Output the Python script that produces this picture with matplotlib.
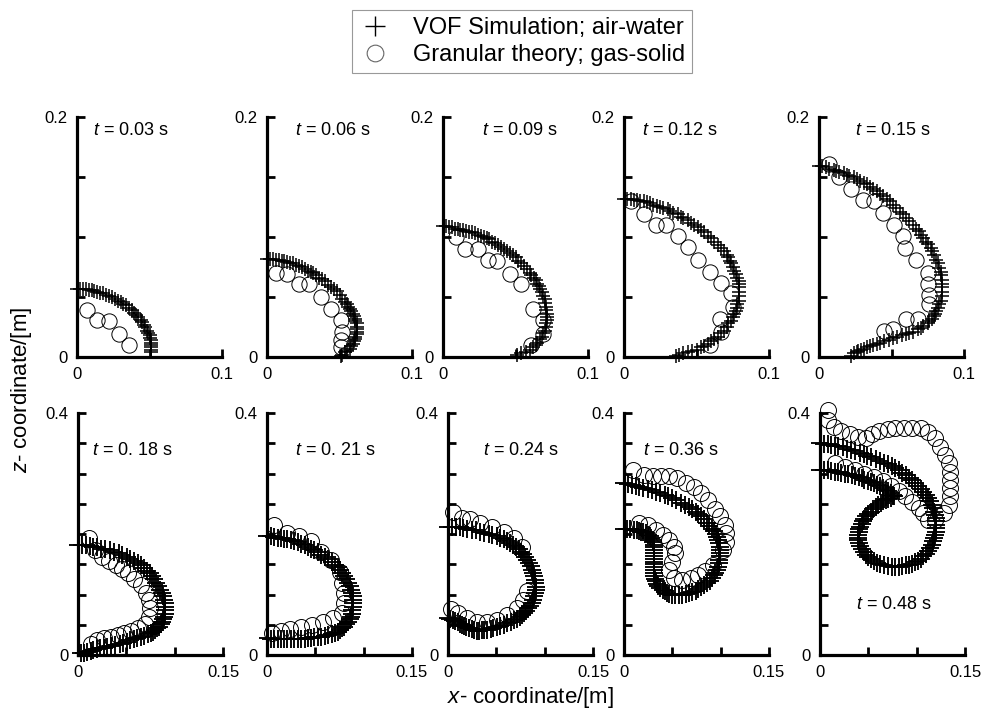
import numpy as np
import matplotlib
matplotlib.use("Agg")
import matplotlib.pyplot as plt
from matplotlib.lines import Line2D

plt.rcParams['font.family'] = ['Liberation Sans', 'DejaVu Sans']
plt.rcParams['mathtext.fontset'] = 'custom'
plt.rcParams['mathtext.it'] = 'Liberation Sans:italic'
plt.rcParams['mathtext.rm'] = 'Liberation Sans'

# ---- data: (x, z) in metres ----
# top row, t = 0.03 ... 0.15 s
t003_vof = np.array([[0, 0.057], [0.002, 0.057], [0.004, 0.057], [0.006, 0.057], [0.008, 0.056],
                     [0.010, 0.056], [0.012, 0.055], [0.014, 0.054], [0.016, 0.053], [0.018, 0.053],
                     [0.020, 0.052], [0.022, 0.051], [0.024, 0.050], [0.026, 0.048], [0.028, 0.047],
                     [0.030, 0.046], [0.032, 0.044], [0.034, 0.043], [0.036, 0.041], [0.038, 0.039],
                     [0.039, 0.037], [0.041, 0.035], [0.042, 0.033], [0.044, 0.031], [0.045, 0.029],
                     [0.046, 0.027], [0.047, 0.025], [0.048, 0.022], [0.049, 0.020], [0.050, 0.018],
                     [0.050, 0.016], [0.051, 0.014], [0.051, 0.012], [0.051, 0.010], [0.051, 0.008],
                     [0.051, 0.006], [0.051, 0.004]])
t003_gran = np.array([[0.007, 0.039], [0.014, 0.031], [0.022, 0.030], [0.029, 0.019], [0.036, 0.010]])

t006_vof = np.array([[0, 0.082], [0.002, 0.082], [0.004, 0.082], [0.006, 0.081], [0.008, 0.081],
                     [0.010, 0.080], [0.012, 0.080], [0.014, 0.079], [0.016, 0.078], [0.018, 0.078],
                     [0.020, 0.077], [0.022, 0.076], [0.024, 0.075], [0.026, 0.073], [0.028, 0.072],
                     [0.030, 0.071], [0.032, 0.070], [0.034, 0.068], [0.036, 0.066], [0.038, 0.065],
                     [0.040, 0.063], [0.042, 0.060], [0.044, 0.058], [0.046, 0.057], [0.048, 0.055],
                     [0.050, 0.052], [0.052, 0.048], [0.054, 0.046], [0.055, 0.044], [0.056, 0.042],
                     [0.057, 0.040], [0.058, 0.038], [0.059, 0.036], [0.060, 0.034], [0.061, 0.032],
                     [0.061, 0.030], [0.062, 0.028], [0.062, 0.025], [0.062, 0.023], [0.062, 0.021],
                     [0.062, 0.019], [0.061, 0.017], [0.061, 0.015], [0.060, 0.013], [0.059, 0.011],
                     [0.058, 0.009], [0.057, 0.007], [0.055, 0.005], [0.054, 0.004], [0.052, 0.002],
                     [0.051, 0.001]])
t006_gran = np.array([[0.006, 0.070], [0.014, 0.069], [0.022, 0.061], [0.029, 0.061], [0.037, 0.050],
                      [0.044, 0.040], [0.051, 0.031], [0.052, 0.021], [0.051, 0.014], [0.051, 0.008]])

t009_vof = np.array([[0, 0.109], [0.002, 0.109], [0.004, 0.108], [0.006, 0.108], [0.008, 0.107],
                     [0.010, 0.107], [0.012, 0.106], [0.014, 0.106], [0.016, 0.105], [0.018, 0.104],
                     [0.020, 0.104], [0.022, 0.103], [0.024, 0.102], [0.026, 0.101], [0.028, 0.100],
                     [0.030, 0.099], [0.032, 0.098], [0.034, 0.096], [0.036, 0.095], [0.038, 0.093],
                     [0.040, 0.092], [0.042, 0.090], [0.044, 0.088], [0.046, 0.087], [0.048, 0.085],
                     [0.050, 0.083], [0.052, 0.080], [0.054, 0.078], [0.056, 0.076], [0.058, 0.073],
                     [0.060, 0.070], [0.061, 0.068], [0.063, 0.066], [0.064, 0.064], [0.065, 0.061],
                     [0.066, 0.059], [0.067, 0.057], [0.068, 0.054], [0.069, 0.051], [0.070, 0.048],
                     [0.070, 0.045], [0.071, 0.042], [0.071, 0.039], [0.072, 0.036], [0.072, 0.033],
                     [0.072, 0.031], [0.071, 0.028], [0.071, 0.025], [0.070, 0.022], [0.069, 0.020],
                     [0.068, 0.017], [0.067, 0.015], [0.065, 0.012], [0.064, 0.010], [0.062, 0.008],
                     [0.060, 0.006], [0.057, 0.004], [0.054, 0.003], [0.051, 0.002]])
t009_gran = np.array([[0.009, 0.100], [0.015, 0.090], [0.024, 0.090], [0.031, 0.081], [0.037, 0.080],
                      [0.046, 0.069], [0.054, 0.061], [0.062, 0.040], [0.069, 0.031], [0.069, 0.019],
                      [0.061, 0.010]])

t012_vof = np.array([[0, 0.132], [0.002, 0.132], [0.005, 0.132], [0.007, 0.131], [0.009, 0.131],
                     [0.011, 0.130], [0.014, 0.130], [0.016, 0.129], [0.018, 0.128], [0.020, 0.127],
                     [0.023, 0.126], [0.025, 0.125], [0.027, 0.124], [0.030, 0.123], [0.032, 0.122],
                     [0.034, 0.120], [0.037, 0.119], [0.039, 0.117], [0.041, 0.116], [0.044, 0.114],
                     [0.046, 0.112], [0.048, 0.110], [0.051, 0.108], [0.053, 0.106], [0.055, 0.104],
                     [0.058, 0.101], [0.060, 0.099], [0.062, 0.096], [0.065, 0.093], [0.067, 0.091],
                     [0.069, 0.088], [0.071, 0.085], [0.072, 0.083], [0.073, 0.080], [0.074, 0.078],
                     [0.075, 0.075], [0.076, 0.072], [0.077, 0.069], [0.078, 0.066], [0.079, 0.063],
                     [0.079, 0.061], [0.079, 0.058], [0.079, 0.054], [0.079, 0.051], [0.079, 0.047],
                     [0.078, 0.044], [0.078, 0.041], [0.077, 0.038], [0.076, 0.036], [0.075, 0.033],
                     [0.074, 0.030], [0.072, 0.028], [0.071, 0.025], [0.069, 0.022], [0.067, 0.020],
                     [0.065, 0.017], [0.062, 0.015], [0.060, 0.013], [0.058, 0.011], [0.055, 0.009],
                     [0.053, 0.008], [0.050, 0.006], [0.047, 0.005], [0.044, 0.004], [0.041, 0.003],
                     [0.038, 0.002], [0.036, 0.001]])
t012_gran = np.array([[0.005, 0.130], [0.014, 0.119], [0.022, 0.110], [0.029, 0.110], [0.037, 0.101],
                      [0.044, 0.092], [0.051, 0.081], [0.059, 0.071], [0.067, 0.062], [0.074, 0.053],
                      [0.075, 0.042], [0.066, 0.032], [0.067, 0.021], [0.059, 0.010]])

t015_vof = np.array([[0, 0.159], [0.002, 0.159], [0.005, 0.158], [0.007, 0.157], [0.010, 0.156],
                     [0.012, 0.155], [0.014, 0.154], [0.017, 0.153], [0.019, 0.152], [0.021, 0.151],
                     [0.024, 0.150], [0.026, 0.148], [0.028, 0.147], [0.031, 0.145], [0.033, 0.144],
                     [0.035, 0.142], [0.037, 0.140], [0.040, 0.138], [0.042, 0.136], [0.044, 0.134],
                     [0.047, 0.132], [0.049, 0.130], [0.051, 0.127], [0.053, 0.124], [0.056, 0.121],
                     [0.058, 0.119], [0.060, 0.116], [0.062, 0.113], [0.065, 0.110], [0.067, 0.107],
                     [0.069, 0.105], [0.070, 0.102], [0.072, 0.099], [0.074, 0.096], [0.075, 0.094],
                     [0.077, 0.091], [0.078, 0.088], [0.079, 0.085], [0.081, 0.081], [0.082, 0.078],
                     [0.083, 0.074], [0.084, 0.071], [0.084, 0.068], [0.085, 0.064], [0.085, 0.061],
                     [0.085, 0.058], [0.085, 0.054], [0.085, 0.051], [0.084, 0.047], [0.083, 0.044],
                     [0.082, 0.041], [0.081, 0.038], [0.080, 0.036], [0.079, 0.034], [0.078, 0.032],
                     [0.076, 0.030], [0.075, 0.028], [0.072, 0.026], [0.070, 0.024], [0.068, 0.023],
                     [0.065, 0.021], [0.062, 0.020], [0.060, 0.019], [0.057, 0.018], [0.054, 0.017],
                     [0.051, 0.016], [0.048, 0.014], [0.045, 0.013], [0.042, 0.012], [0.040, 0.011],
                     [0.037, 0.010], [0.035, 0.009], [0.033, 0.008], [0.031, 0.007], [0.029, 0.006],
                     [0.027, 0.005], [0.026, 0.004], [0.024, 0.003], [0.022, 0.001]])
t015_gran = np.array([[0.007, 0.161], [0.014, 0.150], [0.022, 0.140], [0.030, 0.131], [0.038, 0.130],
                      [0.044, 0.120], [0.052, 0.110], [0.058, 0.101], [0.059, 0.091], [0.067, 0.081],
                      [0.075, 0.070], [0.075, 0.061], [0.076, 0.052], [0.076, 0.044], [0.068, 0.032],
                      [0.060, 0.032], [0.051, 0.023], [0.045, 0.022]])

# bottom row, t = 0.18 ... 0.48 s
t018_vof = np.array([[0, 0.182], [0.004, 0.182], [0.008, 0.181], [0.012, 0.180], [0.016, 0.179],
                     [0.020, 0.178], [0.024, 0.176], [0.028, 0.175], [0.033, 0.173], [0.037, 0.171],
                     [0.042, 0.168], [0.046, 0.165], [0.051, 0.162], [0.054, 0.159], [0.058, 0.155],
                     [0.062, 0.152], [0.065, 0.148], [0.068, 0.144], [0.071, 0.139], [0.074, 0.135],
                     [0.077, 0.130], [0.079, 0.125], [0.081, 0.119], [0.083, 0.114], [0.085, 0.108],
                     [0.087, 0.102], [0.088, 0.097], [0.089, 0.091], [0.090, 0.086], [0.090, 0.080],
                     [0.090, 0.074], [0.090, 0.068], [0.089, 0.063], [0.088, 0.059], [0.087, 0.055],
                     [0.086, 0.051], [0.084, 0.047], [0.082, 0.044], [0.080, 0.041], [0.078, 0.038],
                     [0.075, 0.036], [0.072, 0.034], [0.068, 0.032], [0.065, 0.030], [0.061, 0.028],
                     [0.058, 0.026], [0.054, 0.024], [0.051, 0.022], [0.047, 0.020], [0.043, 0.019],
                     [0.038, 0.017], [0.034, 0.015], [0.030, 0.014], [0.027, 0.012], [0.023, 0.011],
                     [0.020, 0.010], [0.016, 0.008], [0.013, 0.007], [0.009, 0.005], [0.006, 0.004],
                     [0.003, 0.003]])
t018_gran = np.array([[0.011, 0.193], [0.018, 0.174], [0.025, 0.162], [0.032, 0.155], [0.039, 0.149],
                      [0.045, 0.142], [0.052, 0.136], [0.058, 0.126], [0.065, 0.115], [0.070, 0.103],
                      [0.073, 0.091], [0.074, 0.077], [0.073, 0.063], [0.069, 0.051], [0.062, 0.044],
                      [0.055, 0.040], [0.048, 0.036], [0.041, 0.033], [0.034, 0.030], [0.027, 0.028],
                      [0.020, 0.025], [0.013, 0.019]])

t021_vof = np.array([[0, 0.196], [0.004, 0.196], [0.007, 0.195], [0.011, 0.194], [0.014, 0.193],
                     [0.018, 0.192], [0.021, 0.191], [0.025, 0.190], [0.028, 0.188], [0.032, 0.186],
                     [0.035, 0.184], [0.039, 0.182], [0.042, 0.179], [0.046, 0.176], [0.049, 0.173],
                     [0.053, 0.170], [0.056, 0.166], [0.060, 0.162], [0.063, 0.158], [0.067, 0.154],
                     [0.070, 0.149], [0.073, 0.145], [0.075, 0.140], [0.078, 0.135], [0.080, 0.130],
                     [0.082, 0.125], [0.084, 0.119], [0.086, 0.114], [0.087, 0.108], [0.088, 0.102],
                     [0.089, 0.097], [0.089, 0.091], [0.089, 0.086], [0.089, 0.080], [0.088, 0.074],
                     [0.088, 0.068], [0.087, 0.063], [0.086, 0.059], [0.084, 0.055], [0.082, 0.051],
                     [0.080, 0.047], [0.078, 0.044], [0.075, 0.041], [0.073, 0.038], [0.070, 0.036],
                     [0.067, 0.034], [0.063, 0.033], [0.060, 0.031], [0.056, 0.030], [0.053, 0.029],
                     [0.049, 0.029], [0.046, 0.028], [0.042, 0.028], [0.039, 0.027], [0.035, 0.027],
                     [0.032, 0.026], [0.028, 0.026], [0.025, 0.026], [0.021, 0.026], [0.018, 0.026],
                     [0.014, 0.026], [0.011, 0.026], [0.007, 0.027], [0.004, 0.027], [0.001, 0.028]])
t021_gran = np.array([[0.007, 0.215], [0.021, 0.201], [0.033, 0.196], [0.045, 0.188], [0.056, 0.171],
                      [0.066, 0.157], [0.075, 0.138], [0.078, 0.119], [0.080, 0.102], [0.080, 0.086],
                      [0.078, 0.069], [0.068, 0.061], [0.058, 0.055], [0.047, 0.050], [0.035, 0.046],
                      [0.024, 0.043], [0.014, 0.039], [0.005, 0.036]])

t024_vof = np.array([[0, 0.212], [0.004, 0.212], [0.008, 0.211], [0.012, 0.211], [0.016, 0.210],
                     [0.020, 0.209], [0.025, 0.207], [0.029, 0.206], [0.033, 0.204], [0.037, 0.202],
                     [0.042, 0.200], [0.046, 0.198], [0.051, 0.196], [0.054, 0.194], [0.058, 0.191],
                     [0.061, 0.188], [0.064, 0.185], [0.067, 0.182], [0.070, 0.178], [0.073, 0.175],
                     [0.075, 0.171], [0.078, 0.167], [0.080, 0.162], [0.082, 0.157], [0.084, 0.152],
                     [0.086, 0.147], [0.087, 0.141], [0.088, 0.136], [0.089, 0.130], [0.090, 0.124],
                     [0.090, 0.119], [0.091, 0.113], [0.091, 0.108], [0.090, 0.102], [0.089, 0.097],
                     [0.088, 0.091], [0.087, 0.086], [0.085, 0.081], [0.083, 0.077], [0.081, 0.073],
                     [0.079, 0.069], [0.077, 0.066], [0.074, 0.063], [0.071, 0.060], [0.068, 0.058],
                     [0.065, 0.055], [0.061, 0.053], [0.058, 0.050], [0.054, 0.048], [0.051, 0.047],
                     [0.047, 0.045], [0.044, 0.043], [0.040, 0.042], [0.037, 0.041], [0.035, 0.041],
                     [0.032, 0.040], [0.030, 0.040], [0.027, 0.041], [0.025, 0.043], [0.022, 0.044],
                     [0.019, 0.046], [0.017, 0.048], [0.014, 0.050], [0.012, 0.052], [0.010, 0.054],
                     [0.007, 0.056], [0.005, 0.058], [0.002, 0.060], [0, 0.061]])
t024_gran = np.array([[0.005, 0.237], [0.014, 0.226], [0.023, 0.225], [0.033, 0.219], [0.045, 0.212],
                      [0.058, 0.204], [0.068, 0.193], [0.077, 0.179], [0.082, 0.105], [0.078, 0.091],
                      [0.071, 0.077], [0.061, 0.066], [0.051, 0.058], [0.040, 0.055], [0.030, 0.055],
                      [0.020, 0.061], [0.010, 0.070], [0.003, 0.076]])

t036_vof = np.array([[0, 0.284], [0.004, 0.283], [0.008, 0.281], [0.012, 0.280], [0.016, 0.278],
                     [0.020, 0.276], [0.025, 0.274], [0.029, 0.272], [0.033, 0.270], [0.037, 0.268],
                     [0.042, 0.265], [0.046, 0.262], [0.050, 0.259], [0.054, 0.256], [0.059, 0.252],
                     [0.063, 0.248], [0.067, 0.244], [0.070, 0.241], [0.074, 0.237], [0.077, 0.233],
                     [0.080, 0.229], [0.083, 0.224], [0.086, 0.219], [0.088, 0.214], [0.091, 0.209],
                     [0.093, 0.205], [0.095, 0.200], [0.096, 0.195], [0.097, 0.190], [0.098, 0.185],
                     [0.099, 0.179], [0.099, 0.174], [0.099, 0.168], [0.099, 0.163], [0.098, 0.157],
                     [0.098, 0.152], [0.097, 0.146], [0.096, 0.141], [0.094, 0.136], [0.093, 0.132],
                     [0.091, 0.127], [0.089, 0.123], [0.086, 0.119], [0.083, 0.115], [0.080, 0.112],
                     [0.077, 0.109], [0.074, 0.106], [0.070, 0.104], [0.067, 0.102], [0.064, 0.101],
                     [0.060, 0.100], [0.057, 0.099], [0.053, 0.099], [0.050, 0.100], [0.047, 0.101],
                     [0.044, 0.103], [0.042, 0.105], [0.040, 0.108], [0.037, 0.111], [0.035, 0.114],
                     [0.034, 0.118], [0.033, 0.122], [0.032, 0.126], [0.031, 0.130], [0.031, 0.135],
                     [0.031, 0.140], [0.031, 0.145], [0.031, 0.150], [0.031, 0.154], [0.031, 0.159],
                     [0.031, 0.164], [0.031, 0.169], [0.031, 0.174], [0.031, 0.178], [0.031, 0.182],
                     [0.030, 0.186], [0.030, 0.190], [0.028, 0.193], [0.027, 0.196], [0.025, 0.199],
                     [0.023, 0.201], [0.020, 0.203], [0.018, 0.204], [0.015, 0.205], [0.013, 0.207],
                     [0.010, 0.207], [0.006, 0.208], [0.003, 0.209], [0, 0.209]])
t036_gran = np.array([[0.009, 0.306], [0.021, 0.298], [0.030, 0.296], [0.038, 0.296], [0.047, 0.296],
                      [0.055, 0.292], [0.064, 0.285], [0.072, 0.277], [0.080, 0.267], [0.087, 0.256],
                      [0.094, 0.242], [0.099, 0.229], [0.104, 0.215], [0.106, 0.201], [0.106, 0.187],
                      [0.102, 0.174], [0.092, 0.149], [0.084, 0.139], [0.077, 0.132], [0.069, 0.127],
                      [0.060, 0.124], [0.052, 0.128], [0.047, 0.140], [0.050, 0.154], [0.053, 0.168],
                      [0.052, 0.179], [0.047, 0.190], [0.040, 0.198], [0.033, 0.207], [0.025, 0.215],
                      [0.016, 0.219]])

t048_vof = np.array([[0, 0.350], [0.004, 0.349], [0.008, 0.348], [0.011, 0.347], [0.015, 0.346],
                     [0.019, 0.345], [0.024, 0.343], [0.028, 0.341], [0.032, 0.339], [0.036, 0.337],
                     [0.041, 0.334], [0.045, 0.332], [0.049, 0.329], [0.053, 0.327], [0.058, 0.324],
                     [0.062, 0.321], [0.066, 0.318], [0.070, 0.315], [0.074, 0.312], [0.078, 0.309],
                     [0.082, 0.305], [0.085, 0.301], [0.089, 0.297], [0.092, 0.293], [0.095, 0.289],
                     [0.098, 0.285], [0.101, 0.280], [0.104, 0.275], [0.107, 0.270], [0.110, 0.265],
                     [0.112, 0.259], [0.114, 0.254], [0.116, 0.248], [0.117, 0.243], [0.118, 0.237],
                     [0.119, 0.232], [0.120, 0.226], [0.120, 0.221], [0.120, 0.215], [0.120, 0.210],
                     [0.120, 0.204], [0.119, 0.199], [0.118, 0.193], [0.117, 0.188], [0.116, 0.182],
                     [0.114, 0.177], [0.112, 0.172], [0.110, 0.167], [0.107, 0.163], [0.104, 0.159],
                     [0.101, 0.156], [0.098, 0.153], [0.095, 0.151], [0.092, 0.149], [0.089, 0.148],
                     [0.085, 0.147], [0.082, 0.146], [0.078, 0.146], [0.074, 0.146], [0.070, 0.147],
                     [0.066, 0.148], [0.062, 0.150], [0.059, 0.152], [0.056, 0.155], [0.053, 0.158],
                     [0.050, 0.162], [0.048, 0.166], [0.045, 0.171], [0.043, 0.176], [0.041, 0.180],
                     [0.040, 0.185], [0.039, 0.190], [0.039, 0.194], [0.039, 0.199], [0.040, 0.203],
                     [0.040, 0.208], [0.041, 0.212], [0.043, 0.217], [0.044, 0.221], [0.046, 0.225],
                     [0.048, 0.229], [0.050, 0.233], [0.053, 0.237], [0.055, 0.241], [0.058, 0.245],
                     [0.060, 0.248], [0.063, 0.251], [0.065, 0.254], [0.068, 0.256], [0.070, 0.258],
                     [0.073, 0.260], [0.075, 0.262], [0.077, 0.263], [0.075, 0.265], [0.073, 0.268],
                     [0.070, 0.271], [0.068, 0.273], [0.065, 0.276], [0.062, 0.279], [0.059, 0.281],
                     [0.056, 0.284], [0.053, 0.286], [0.050, 0.288], [0.046, 0.290], [0.043, 0.292],
                     [0.040, 0.294], [0.036, 0.296], [0.033, 0.297], [0.029, 0.299], [0.026, 0.300],
                     [0.022, 0.301], [0.019, 0.302], [0.015, 0.303], [0.011, 0.304], [0.008, 0.305],
                     [0.004, 0.305], [0, 0.306]])
t048_gran = np.array([[0.008, 0.405], [0.008, 0.388], [0.014, 0.377], [0.022, 0.370], [0.031, 0.365],
                      [0.039, 0.360], [0.048, 0.358], [0.054, 0.365], [0.061, 0.370], [0.070, 0.374],
                      [0.078, 0.375], [0.087, 0.375], [0.095, 0.375], [0.104, 0.375], [0.112, 0.369],
                      [0.119, 0.358], [0.124, 0.344], [0.129, 0.331], [0.133, 0.317], [0.134, 0.303],
                      [0.134, 0.289], [0.134, 0.276], [0.134, 0.262], [0.133, 0.248], [0.128, 0.234],
                      [0.119, 0.223], [0.112, 0.223],
                      [0.015, 0.317], [0.026, 0.311], [0.036, 0.306], [0.046, 0.300], [0.056, 0.295],
                      [0.065, 0.288], [0.073, 0.279], [0.082, 0.271], [0.088, 0.263], [0.095, 0.253],
                      [0.102, 0.243], [0.107, 0.234]])

top_labels = ['0.03', '0.06', '0.09', '0.12', '0.15']
bottom_labels = ['0. 18', '0. 21', '0.24', '0.36', '0.48']
top_vof = [t003_vof, t006_vof, t009_vof, t012_vof, t015_vof]
top_gran = [t003_gran, t006_gran, t009_gran, t012_gran, t015_gran]
bottom_vof = [t018_vof, t021_vof, t024_vof, t036_vof, t048_vof]
bottom_gran = [t018_gran, t021_gran, t024_gran, t036_gran, t048_gran]

# ---- layout (pixel positions of the panels in a 985x711 figure) ----
W, H = 985, 711
top_left_px = [77, 267, 443, 624, 819]
bot_left_px = [78, 267, 448, 624, 820]
top_text_pos = [(0.11, 0.945), (0.19, 0.945), (0.27, 0.945), (0.125, 0.945), (0.25, 0.945)]
bot_text_pos = [(0.10, 0.847), (0.19, 0.847), (0.24, 0.847), (0.13, 0.847), (0.25, 0.207)]

fig = plt.figure(figsize=(W / 100, H / 100), dpi=100)


def style_axes(ax, xmax, zmax, zstep):
    ax.set_xlim(0, xmax)
    ax.set_ylim(0, zmax)
    for s in ['top', 'right']:
        ax.spines[s].set_visible(False)
    for s in ['left', 'bottom']:
        ax.spines[s].set_linewidth(2.3)
    xt = np.arange(0, xmax + 1e-9, 0.05)
    zt = np.arange(0, zmax + 1e-9, zstep)
    ax.set_xticks(xt)
    ax.set_xticklabels(['0'] + [''] * (len(xt) - 2) + [('%g' % xmax)])
    ax.set_yticks(zt)
    ax.set_yticklabels(['0'] + [''] * (len(zt) - 2) + [('%g' % zmax)])
    ax.tick_params(direction='in', length=6, width=2, labelsize=12, pad=7)
    ax.patch.set_alpha(0)


def draw(ax, vof, gran, ms_plus, mew_plus, ms_circ):
    ax.plot(vof[:, 0], vof[:, 1], ls='none', marker='+', ms=ms_plus, mew=mew_plus,
            color='k', clip_on=False)
    ax.plot(gran[:, 0], gran[:, 1], ls='none', marker='o', ms=ms_circ, mew=0.7,
            mfc='none', mec='k', clip_on=False)


for i in range(5):
    ax = fig.add_axes([top_left_px[i] / W, (H - 357) / H, 145 / W, 240 / H])
    style_axes(ax, 0.1, 0.2, 0.05)
    draw(ax, top_vof[i], top_gran[i], 10.5, 1.1, 11)
    tx, ty = top_text_pos[i]
    ax.text(tx, ty, '$t$ = %s s' % top_labels[i], transform=ax.transAxes,
            fontsize=13, va='center')

for i in range(5):
    ax = fig.add_axes([bot_left_px[i] / W, (H - 655) / H, 145 / W, 242 / H])
    style_axes(ax, 0.15, 0.4, 0.05)
    draw(ax, bottom_vof[i], bottom_gran[i], 13, 1.35, 11.5)
    tx, ty = bot_text_pos[i]
    ax.text(tx, ty, '$t$ = %s s' % bottom_labels[i], transform=ax.transAxes,
            fontsize=13, va='center')

fig.text(0.022, 1 - 390 / H, '$z$- coordinate/[m]', rotation=90,
         ha='center', va='center', fontsize=16)
fig.text(531 / W, 1 - 697 / H, '$x$- coordinate/[m]',
         ha='center', va='center', fontsize=16)

handles = [Line2D([], [], ls='none', marker='+', ms=14, mew=1.0, color='k'),
           Line2D([], [], ls='none', marker='o', ms=12, mew=0.8, mfc='none', mec='0.4')]
leg = fig.legend(handles, ['VOF Simulation; air-water', 'Granular theory; gas-solid'],
                 loc='upper center', bbox_to_anchor=(522 / W, 1 - 10 / H),
                 fontsize=17, frameon=True, fancybox=False, edgecolor='0.6',
                 framealpha=1, labelspacing=0.2, handlelength=1.4,
                 handletextpad=0.9, borderpad=0.3, borderaxespad=0)
leg.get_frame().set_linewidth(0.8)

fig.savefig('out.png', dpi=100)
